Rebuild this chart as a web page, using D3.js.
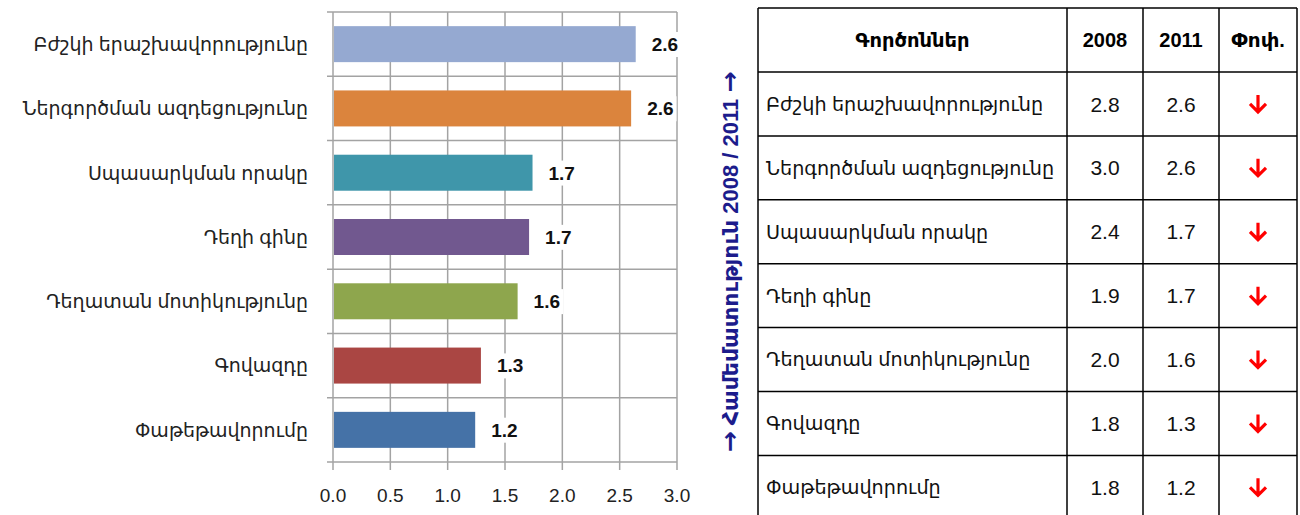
<!DOCTYPE html>
<html><head><meta charset="utf-8">
<script src="https://cdn.jsdelivr.net/npm/d3@7"></script>
<style>
html,body{margin:0;padding:0;background:#fff;}
svg{display:block;}
text{font-family:Arial,"Liberation Sans","DejaVu Sans",sans-serif;}
</style></head><body>
<svg id="c" width="1300" height="515"></svg>
<script>
const categories = ["Բժշկի երաշխավորությունը","Ներգործման ազդեցությունը","Սպասարկման որակը","Դեղի գինը","Դեղատան մոտիկությունը","Գովազդը","Փաթեթավորումը"];
const values = [2.64, 2.6, 1.74, 1.71, 1.61, 1.29, 1.24];
const barColors = ["#95a9d1","#db843d","#3f96aa","#71588f","#8ea64d","#aa4643","#4572a7"];
const xTicks = [0,0.5,1,1.5,2,2.5,3];
const v2008 = [2.8, 3.0, 2.4, 1.9, 2.0, 1.8, 1.8];
const v2011 = [2.6, 2.6, 1.7, 1.7, 1.6, 1.3, 1.2];
const headers = ["Գործոններ","2008","2011","Փոփ."];
const sideTitleParts = ["→"," Համեմատություն 2008 / 2011 ","→"];

const svg = d3.select("#c");
const x = d3.scaleLinear().domain([0,3]).range([333,677]);
const y = d3.scaleBand().domain(categories).range([12,462]).paddingInner(0.44).paddingOuter(0.22);
const step = y.step();
const grid = "#a3a3a3";

const g = svg.append("g");
d3.range(categories.length+1).forEach(i=>{
  const yy = 12 + i*step;
  g.append("line").attr("x1",327).attr("x2",x(3)).attr("y1",yy).attr("y2",yy)
   .attr("stroke",grid).attr("stroke-width",1.5);
});
g.selectAll("line.v").data(xTicks).enter().append("line")
  .attr("x1",d=>x(d)).attr("x2",d=>x(d)).attr("y1",12).attr("y2",470)
  .attr("stroke",grid).attr("stroke-width",1.5);

g.selectAll("rect.bar").data(values).enter().append("rect")
  .attr("x",x(0)+1).attr("y",(d,i)=>y(categories[i]))
  .attr("width",d=>x(d)-x(0)-1).attr("height",y.bandwidth())
  .attr("fill",(d,i)=>barColors[i]);

const vl = g.append("g");
values.forEach((d,i)=>{
  const cy = y(categories[i]) + y.bandwidth()/2;
  const t = vl.append("text").attr("x",x(d)+16).attr("y",cy).attr("dy","0.36em")
    .attr("font-size",19).attr("font-weight","bold").attr("fill","#111").text(d.toFixed(1));
  const bb = t.node().getBBox();
  vl.insert("rect","text").attr("x",bb.x-3).attr("y",bb.y-2).attr("width",bb.width+6).attr("height",bb.height+4).attr("fill","#fff");
});

categories.forEach((c,i)=>{
  g.append("text").attr("x",308).attr("y",y(c)+y.bandwidth()/2).attr("dy","0.36em")
   .attr("text-anchor","end").attr("font-size",19).attr("fill","#222").text(c);
});
g.selectAll("text.xt").data(xTicks).enter().append("text")
  .attr("x",d=>x(d)).attr("y",502).attr("text-anchor","middle")
  .attr("font-size",19).attr("fill","#222").text(d=>d.toFixed(1));

const st = svg.append("text").attr("transform","translate(738,262) rotate(-90)")
  .attr("text-anchor","middle").attr("font-size",22).attr("font-weight","bold")
  .attr("fill","#1c1c8c");
sideTitleParts.forEach((p,i)=>{
  st.append("tspan").attr("font-family", i===1 ? null : "'DejaVu Sans'").attr("font-size", i===1?22:25).text(p);
});

const colX = [758,1067,1143,1219,1297];
const rowY = [8,72].concat(d3.range(1,categories.length+1).map(i=>72+i*63.9));
const tg = svg.append("g");
headers.forEach((h,j)=>{
  tg.append("text").attr("x",(colX[j]+colX[j+1])/2).attr("y",(rowY[0]+rowY[1])/2).attr("dy","0.36em")
   .attr("text-anchor","middle").attr("font-size",j===0?19.5:20).attr("font-weight","bold").attr("fill","#000").text(h);
});
categories.forEach((c,i)=>{
  const cy = (rowY[i+1]+rowY[i+2])/2;
  tg.append("text").attr("x",766).attr("y",cy).attr("dy","0.36em").attr("font-size",19.2).attr("fill","#111").text(c);
  tg.append("text").attr("x",(colX[1]+colX[2])/2).attr("y",cy).attr("dy","0.36em").attr("text-anchor","middle").attr("font-size",21).attr("fill","#111").text(v2008[i].toFixed(1));
  tg.append("text").attr("x",(colX[2]+colX[3])/2).attr("y",cy).attr("dy","0.36em").attr("text-anchor","middle").attr("font-size",21).attr("fill","#111").text(v2011[i].toFixed(1));
  const ax = (colX[3]+colX[4])/2, down = v2011[i] < v2008[i];
  const s = down ? 1 : -1;
  tg.append("path").attr("d",`M${ax},${cy-9*s} L${ax},${cy+8*s} M${ax-8},${cy} L${ax},${cy+8*s} L${ax+8},${cy}`)
    .attr("stroke","#ff0000").attr("stroke-width",3.2).attr("fill","none");
});
rowY.forEach(yy=>{
  tg.append("line").attr("x1",colX[0]).attr("x2",colX[4]).attr("y1",yy).attr("y2",yy).attr("stroke","#000").attr("stroke-width",1.5);
});
colX.forEach(xx=>{
  tg.append("line").attr("x1",xx).attr("x2",xx).attr("y1",rowY[0]).attr("y2",515).attr("stroke","#000").attr("stroke-width",1.5);
});
</script></body></html>
